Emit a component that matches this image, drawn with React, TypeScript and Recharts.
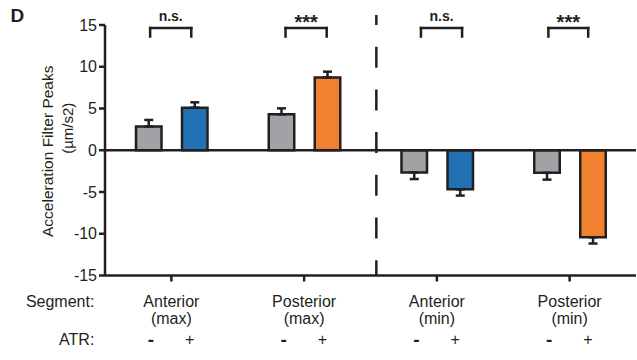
import React from 'react';
import { BarChart, Bar, XAxis, YAxis, ReferenceLine, ReferenceDot, ErrorBar, Cell } from 'recharts';

const categories = ['Anterior (max)', 'Posterior (max)', 'Anterior (min)', 'Posterior (min)'];
const segmentLine1 = ['Anterior', 'Posterior', 'Anterior', 'Posterior'];
const segmentLine2 = ['(max)', '(max)', '(min)', '(min)'];
const controlMeans = [2.85, 4.3, -2.65, -2.7];
const controlErr = [0.78, 0.72, 0.8, 0.82];
const atrMeans = [5.1, 8.72, -4.68, -10.42];
const atrErr = [0.64, 0.69, 0.75, 0.75];
const atrColors = ['#2271B5', '#EF8131', '#2271B5', '#EF8131'];
const significance = ['n.s.', '***', 'n.s.', '***'];
const bracketStart = [0.34, 1.36, 2.38, 3.34];
const bracketEnd = [0.65, 1.67, 2.69, 3.64];
const yTicks = [-15, -10, -5, 0, 5, 10, 15];

const INK = '#231F20';
const GRAY = '#A1A2A6';

const data = categories.map((name, i) => ({
  name,
  pos: i + 0.5,
  control: controlMeans[i],
  controlErr: controlMeans[i] >= 0 ? [0, controlErr[i]] : [controlErr[i], 0],
  atr: atrMeans[i],
  atrErr: atrMeans[i] >= 0 ? [0, atrErr[i]] : [atrErr[i], 0],
}));

const XTick = (props: any) => {
  const { x, y, index } = props;
  return (
    <g>
      <text x={x} y={y + 23} textAnchor="middle" fontSize={16} fill={INK}>{segmentLine1[index]}</text>
      <text x={x} y={y + 40} textAnchor="middle" fontSize={16} fill={INK}>{segmentLine2[index]}</text>
      <text x={x - 20.4} y={y + 62} textAnchor="middle" fontSize={19} fontWeight="bold" fill={INK}>-</text>
      <text x={x + 18.3} y={y + 61.5} textAnchor="middle" fontSize={16} fill={INK}>+</text>
      {index === 0 && (
        <g>
          <text x={x - 77} y={y + 23} textAnchor="end" fontSize={16} fill={INK}>Segment:</text>
          <text x={x - 77} y={y + 61.5} textAnchor="end" fontSize={16} fill={INK}>ATR:</text>
        </g>
      )}
    </g>
  );
};

const YLabel = (props: any) => {
  const vb = props.viewBox || { x: 0, y: 25, width: 105, height: 250 };
  const cy = vb.y + vb.height / 2;
  return (
    <g>
      <text x={10.5} y={21.5} fontSize={19} fontWeight="bold" fill={INK}>D</text>
      <text
        x={vb.x + 47}
        y={cy + 1}
        transform={`rotate(-90, ${vb.x + 47}, ${cy + 1})`}
        textAnchor="middle"
        dominantBaseline="central"
        fontSize={15.5}
        fill={INK}
      >
        Acceleration Filter Peaks
      </text>
      <text
        x={vb.x + 67}
        y={cy - 22}
        transform={`rotate(-90, ${vb.x + 67}, ${cy - 22})`}
        textAnchor="middle"
        dominantBaseline="central"
        fontSize={15}
        fill={INK}
      >
        (µm/s2)
      </text>
    </g>
  );
};

const SigText = (label: string, size: number) => (p: any) => (
  <text x={p.cx} y={p.cy} textAnchor="middle" fontSize={size} fontWeight="bold" fill={INK}>
    {label}
  </text>
);

export default function App() {
  return (
    <div style={{ position: 'absolute', left: 0, top: 0, fontFamily: '"Liberation Sans", Arial, sans-serif', background: '#fff' }}>
      <BarChart
        width={637}
        height={360}
        data={data}
        margin={{ top: 25, right: 1, bottom: 54.5, left: 0 }}
        barSize={25.5}
        barGap={20.5}
      >
        <XAxis
          dataKey="name"
          interval={0}
          height={30}
          tick={<XTick />}
          tickSize={6}
          axisLine={{ stroke: INK, strokeWidth: 2.5 }}
          tickLine={{ stroke: INK, strokeWidth: 2.5 }}
        />
        <XAxis xAxisId="n" dataKey="pos" type="number" domain={[0, 4]} hide allowDataOverflow />
        <YAxis
          width={105}
          domain={[-15, 15]}
          ticks={yTicks}
          interval={0}
          tickSize={6}
          tick={{ fontSize: 16, fill: INK }}
          axisLine={{ stroke: INK, strokeWidth: 2.5 }}
          tickLine={{ stroke: INK, strokeWidth: 2.5 }}
          label={<YLabel />}
        />
        <Bar dataKey="control" fill={GRAY} stroke={INK} strokeWidth={2.5} isAnimationActive={false}>
          <ErrorBar dataKey="controlErr" direction="y" width={4.5} stroke={INK} strokeWidth={2.5} />
        </Bar>
        <Bar dataKey="atr" stroke={INK} strokeWidth={2.5} isAnimationActive={false}>
          {data.map((d, i) => (
            <Cell key={d.name} fill={atrColors[i]} />
          ))}
          <ErrorBar dataKey="atrErr" direction="y" width={4.5} stroke={INK} strokeWidth={2.5} />
        </Bar>
        <ReferenceLine y={0} stroke={INK} strokeWidth={2.5} />
        <ReferenceLine
          xAxisId="n"
          segment={[{ x: 2.044, y: 16.2 }, { x: 2.044, y: -15 }]}
          ifOverflow="visible"
          stroke={INK}
          strokeWidth={2.5}
          strokeDasharray="21 21.7"
          strokeDashoffset={11}
        />
        {significance.map((s, i) => (
          <ReferenceLine
            key={`t${i}`}
            xAxisId="n"
            segment={[{ x: bracketStart[i], y: 14.64 }, { x: bracketEnd[i], y: 14.64 }]}
            ifOverflow="visible"
            stroke={INK}
            strokeWidth={2.5}
            strokeLinecap="square"
          />
        ))}
        {significance.map((s, i) => (
          <ReferenceLine
            key={`l${i}`}
            xAxisId="n"
            segment={[{ x: bracketStart[i], y: 14.64 }, { x: bracketStart[i], y: 13.62 }]}
            ifOverflow="visible"
            stroke={INK}
            strokeWidth={2.5}
            strokeLinecap="square"
          />
        ))}
        {significance.map((s, i) => (
          <ReferenceLine
            key={`r${i}`}
            xAxisId="n"
            segment={[{ x: bracketEnd[i], y: 14.64 }, { x: bracketEnd[i], y: 13.62 }]}
            ifOverflow="visible"
            stroke={INK}
            strokeWidth={2.5}
            strokeLinecap="square"
          />
        ))}
        {significance.map((s, i) => (
          <ReferenceDot
            key={`s${i}`}
            xAxisId="n"
            x={(bracketStart[i] + bracketEnd[i]) / 2}
            y={s === 'n.s.' ? 15.48 : 14.52}
            r={0}
            ifOverflow="visible"
            shape={SigText(s, s === 'n.s.' ? 14 : 20)}
          />
        ))}
      </BarChart>
    </div>
  );
}
